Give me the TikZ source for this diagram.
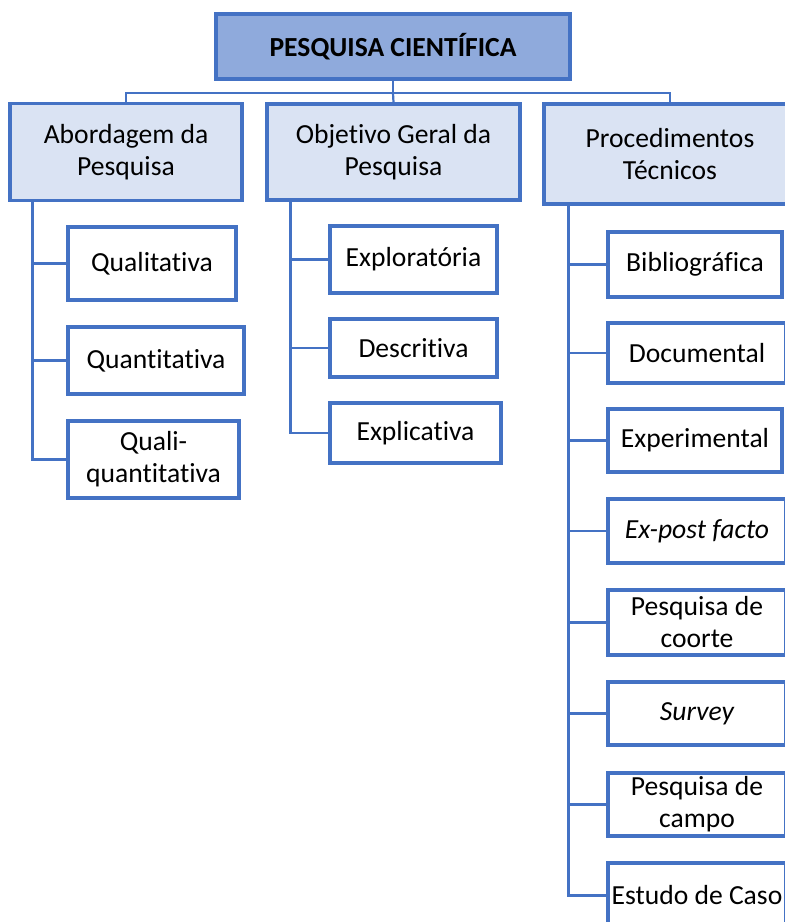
\documentclass[tikz,border=0pt]{standalone}
\usepackage{fontspec}
\setmainfont{Carlito}[Ligatures=NoCommon]
\definecolor{bord}{HTML}{4472C4}
\definecolor{topfill}{HTML}{8FAADC}
\definecolor{midfill}{HTML}{DAE3F3}
\begin{document}
\begin{tikzpicture}[x=1pt,y=-1pt,
  box/.style={draw=bord,line width=3.2pt,fill=white,inner sep=0pt,align=center,
     font=\fontsize{27.6}{32}\selectfont,text=black},
  topbox/.style={box,fill=topfill,font=\fontsize{27.6}{32}\selectfont\bfseries},
  midbox/.style={box,fill=midfill},
  conn/.style={draw=bord,line width=2.2pt}]
\clip (0,0) rectangle (785,922);
\fill[white] (0,0) rectangle (785,922);
% top
\node[topbox,minimum width=354pt,minimum height=65pt] (top) at (393,46.5) {PESQUISA CIENTÍFICA};
% level 2
\node[midbox,minimum width=232pt,minimum height=97pt] (A) at (126,152) {Abordagem da\\Pesquisa};
\node[midbox,minimum width=253pt,minimum height=96pt] (B) at (393.5,152) {Objetivo Geral da\\Pesquisa};
\node[midbox,minimum width=252pt,minimum height=100pt] (C) at (670,154) {Procedimentos\\Técnicos};
% left children
\node[box,minimum width=168pt,minimum height=73pt] (a1) at (152,263.5) {Qualitativa};
\node[box,minimum width=176pt,minimum height=67pt] (a2) at (156,360.5) {Quantitativa};
\node[box,minimum width=171pt,minimum height=77pt] (a3) at (153.5,459.5) {Quali-\\quantitativa};
% middle children
\node[box,minimum width=167pt,minimum height=67pt] (b1) at (413.5,259.5) {Exploratória};
\node[box,minimum width=167pt,minimum height=58pt] (b2) at (413.5,348) {Descritiva};
\node[box,minimum width=171pt,minimum height=60pt] (b3) at (415.5,433) {Explicativa};
% right children
\node[box,minimum width=174pt,minimum height=65pt] (c1) at (695,264.5) {Bibliográfica};
\node[box,minimum width=178pt,minimum height=60pt] (c2) at (697,353) {Documental};
\node[box,minimum width=174pt,minimum height=63pt] (c3) at (695,440.5) {Experimental};
\node[box,minimum width=178pt,minimum height=64pt] (c4) at (697,531) {\itshape Ex-post facto};
\node[box,minimum width=178pt,minimum height=65pt] (c5) at (697,622.5) {Pesquisa de\\coorte};
\node[box,minimum width=178pt,minimum height=63pt] (c6) at (697,713.5) {\itshape Survey};
\node[box,minimum width=178pt,minimum height=63pt] (c7) at (697,804.5) {Pesquisa de\\campo};
\node[box,minimum width=178pt,minimum height=65pt] (c8) at (697,895.5) {Estudo de Caso};
% connectors top
\coordinate (j) at ([yshift=-12.5pt]top.south);
\draw[conn] (top.south) -- (j) -| (A.north);
\draw[conn] (j) -- (B.north);
\draw[conn] (j) -| (C.north);
% branches
\foreach \n in {a1,a2,a3} \draw[conn] ([xshift=24pt]A.south west) |- (\n.west);
\foreach \n in {b1,b2,b3} \draw[conn] ([xshift=25pt]B.south west) |- (\n.west);
\foreach \n in {c1,c2,c3,c4,c5,c6,c7,c8} \draw[conn] ([xshift=26pt]C.south west) |- (\n.west);
\end{tikzpicture}
\end{document}
